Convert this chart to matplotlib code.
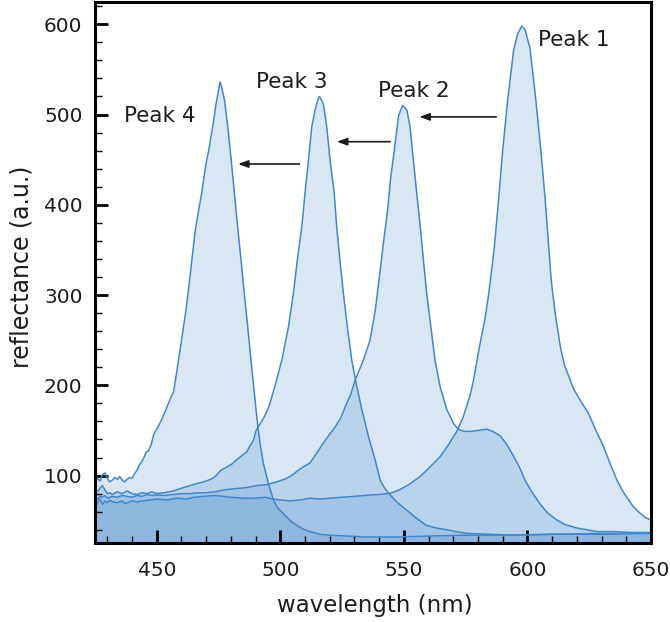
import matplotlib
matplotlib.use("Agg")
import matplotlib.pyplot as plt
from matplotlib.ticker import MultipleLocator

# ---------------- data ----------------
peak1_wl = [425, 426, 427, 428, 429, 430, 431, 432, 434, 436, 437, 438, 440, 442, 444.5, 447, 450, 454, 458, 462,
            465, 469, 473, 477, 480, 485, 490, 494, 497, 500, 504, 508, 512, 516, 520, 525, 530, 536.3, 540, 544.4,
            548, 552, 556.6, 560, 564.7, 568, 571.4, 574, 576.8, 578.2, 580.6, 582.9, 584.5, 586.5, 588.3, 590, 592,
            594.4, 596, 597.7, 599, 601, 603.4, 605.4, 607.2, 608.7, 609.6, 611.2, 613.3, 615, 617.3, 618.5, 621,
            624.7, 627.7, 630.8, 633.5, 636.2, 638.5, 640.9, 643, 645.7, 648, 650]
peak1_refl = [62, 70, 74, 68, 72, 70, 73, 71, 70, 72, 69, 70, 72, 71, 72, 73, 74, 73, 75, 74,
              76, 77, 78, 77, 76, 75, 75, 76, 74, 73, 72, 73, 75, 74, 75, 76, 77, 78.5, 79, 80.4,
              84, 90, 99, 108, 121, 134, 149, 165, 189, 206, 243, 275, 305, 350, 405, 461, 516,
              571, 589, 598, 594, 574, 516, 461, 405, 350, 317, 280, 243, 222, 206, 197, 185,
              169, 150, 132, 113, 95, 83, 73, 65, 58, 53, 51]

peak2_wl = [425, 426, 427, 428, 429, 430, 432, 434, 436, 438, 440, 442, 444, 446, 448, 450, 453, 456.7, 460, 463.5,
            467, 470.2, 473.5, 476.9, 480, 483.7, 487, 490.4, 494.5, 498.5, 502.6, 505, 507.3, 509.5, 512, 514.5,
            517.4, 520, 522.2, 524.5, 526.2, 528.5, 530.3, 533.6, 536.3, 538.4, 540.1, 541.7, 543.4, 544.7, 546.5,
            547.8, 548.7, 549.5, 550.3, 551.2, 552.5, 553.8, 555.2, 556.6, 557.9, 559.2, 560.9, 562.6, 564.7, 567.4,
            570, 572.1, 574.5, 576.8, 580, 583.5, 586, 589, 591.5, 594.3, 597, 599, 602, 605, 608, 611.8, 615,
            619.9, 624, 628, 635, 642, 650]
peak2_refl = [70, 74, 77, 76, 78, 75, 77, 76, 78, 77, 76, 78, 77, 79, 78, 78.5, 78, 79, 80, 80,
              81, 81, 82, 84, 85, 86, 87, 89, 90, 93, 97, 101, 106, 110, 114, 124,
              136, 146, 154, 164, 176, 190, 206, 228, 250, 283, 320, 357, 394, 431, 468,
              498, 505, 510, 508, 505, 486, 450, 413, 376, 339, 302, 265, 228, 198, 173,
              158, 151, 149, 149, 150, 151.5, 149, 144, 135, 122, 108, 95, 81, 69, 59, 51, 46,
              42, 40, 38, 38, 37, 37]

peak3_wl = [425, 426, 427, 428, 429, 430, 431, 432, 434, 436, 438, 440, 442, 444, 446, 448, 450, 453, 456.7, 460,
            463.5, 466, 468.9, 471, 472.6, 474, 476, 478.7, 480.5, 482.1, 484.8, 486.4, 487.5, 489.1, 490.2, 491.5,
            492.9, 494, 495.6, 497.9, 500.6, 503.3, 505.3, 506.9, 508.7, 510, 511.4, 512.7, 514.1, 515, 515.8,
            516.5, 517.4, 518.8, 520.1, 521.8, 522.8, 524.1, 525.5, 527.1, 528.9, 530.7, 533, 535.7, 538.4, 540.4,
            542, 544, 547, 551, 555, 559, 563, 567.4, 571, 575.5, 585, 594, 610, 630, 650]
peak3_refl = [78, 82, 86, 89, 84, 80, 81, 79, 82, 80, 83, 80, 79, 81, 80, 82, 80, 81, 83, 86,
              89, 91, 93, 95, 97, 100, 106, 110, 113, 117, 123, 126, 132, 139, 150, 156,
              162, 168, 178, 200, 228, 265, 302, 339, 376, 413, 450, 486, 505, 515, 520,
              517, 512, 486, 450, 413, 376, 339, 302, 265, 228, 202, 173, 143, 117, 95,
              87, 80, 71, 62, 53, 45, 42, 40, 38, 36, 35, 34, 35, 35, 36]

peak4_wl = [425, 426, 427, 428, 429, 430, 431, 432, 433, 434, 435, 436, 437, 438, 439, 440, 441, 442, 443, 444.3,
            445.7, 446.5, 447.7, 448.8, 450.3, 452, 453.7, 455, 455.8, 456.8, 457.8, 459.8, 461.8, 463.5, 465.5,
            467, 468.3, 470, 471, 472.6, 474, 474.8, 475.6, 476.2, 477.4, 478.7, 480.1, 481.4, 482.7, 484.1,
            485.4, 486.8, 488.1, 489.5, 490.9, 492, 493.1, 495.2, 497.2, 499, 501.2, 504, 506.6, 509, 512, 516,
            520, 527, 535, 547, 560, 575, 590, 610, 630, 650]
peak4_refl = [92, 97, 94, 101, 103, 97, 93, 95, 98, 96, 99, 95, 93, 96, 98, 97, 102, 106, 112, 117,
              126, 127, 134, 146, 153, 162, 173, 182, 187, 193, 210, 246, 283, 322, 370,
              395, 415, 447, 460, 486, 512, 524, 536, 531, 516, 487, 450, 413, 376, 339,
              302, 265, 228, 191, 154, 132, 114, 91, 73, 64, 58, 50, 45, 41, 38, 35,
              34, 33, 32, 32, 33, 34, 34, 35, 36, 36]

series = [(peak1_wl, peak1_refl), (peak2_wl, peak2_refl), (peak3_wl, peak3_refl), (peak4_wl, peak4_refl)]
peak_labels = ["Peak 1", "Peak 2", "Peak 3", "Peak 4"]
x_ticks = [450, 500, 550, 600, 650]
y_ticks = [100, 200, 300, 400, 500, 600]

# ---------------- drawing ----------------
plt.rcParams['font.family'] = ['DejaVu Sans']
TXT = '#1e1b1c'
LINE = '#4287cc'

fig = plt.figure(figsize=(6.70, 6.22), dpi=100)
ax = fig.add_axes([95 / 670, 1 - 543.3 / 622, 556 / 670, 541.6 / 622])

for wl, rf in series:
    ax.fill_between(wl, rf, 0, color=LINE, alpha=0.2, linewidth=0)
for wl, rf in series:
    ax.plot(wl, rf, color=LINE, lw=1.1)

ax.set_xlim(425, 650)
ax.set_ylim(25, 625)
ax.set_xticks(x_ticks)
ax.set_yticks(y_ticks)
ax.xaxis.set_minor_locator(MultipleLocator(10))
ax.yaxis.set_minor_locator(MultipleLocator(20))
ax.tick_params(which='both', direction='in', top=False, right=False, colors='black',
               labelcolor=TXT, labelsize=14.5)
ax.tick_params(which='major', length=9.5, width=2)
ax.tick_params(which='minor', length=5, width=1)
ax.tick_params(axis='x', which='major', pad=13)
ax.tick_params(axis='y', which='major', pad=9)
for sp in ax.spines.values():
    sp.set_linewidth(2.2)
    sp.set_color('black')

ax.set_xlabel('wavelength (nm)', fontsize=16.5, color=TXT)
ax.set_ylabel('reflectance (a.u.)', fontsize=17, color=TXT)
ax.xaxis.set_label_coords(0.504, -0.093)
ax.yaxis.set_label_coords(-0.11, 0.51)

# peak labels
label_xy = [(604.4, 583), (539.6, 526), (490.2, 536), (436.7, 498.5)]
for txt, (x, y) in zip(peak_labels, label_xy):
    ax.text(x, y, txt, fontsize=15.5, color=TXT, ha='left', va='center')

# arrows (tail -> head)
arrows = [((587.4, 497.4), (556.3, 497.4)),
          ((544.4, 469.9), (522.9, 469.9)),
          ((507.7, 445.2), (482.9, 445.2))]
for (tail, head) in arrows:
    ax.annotate('', xy=head, xytext=tail,
                arrowprops=dict(arrowstyle='-|>,head_length=0.6,head_width=0.22',
                                color='#1a1a1a', lw=1.2, shrinkA=0, shrinkB=0))

fig.savefig('out.png', dpi=100)
